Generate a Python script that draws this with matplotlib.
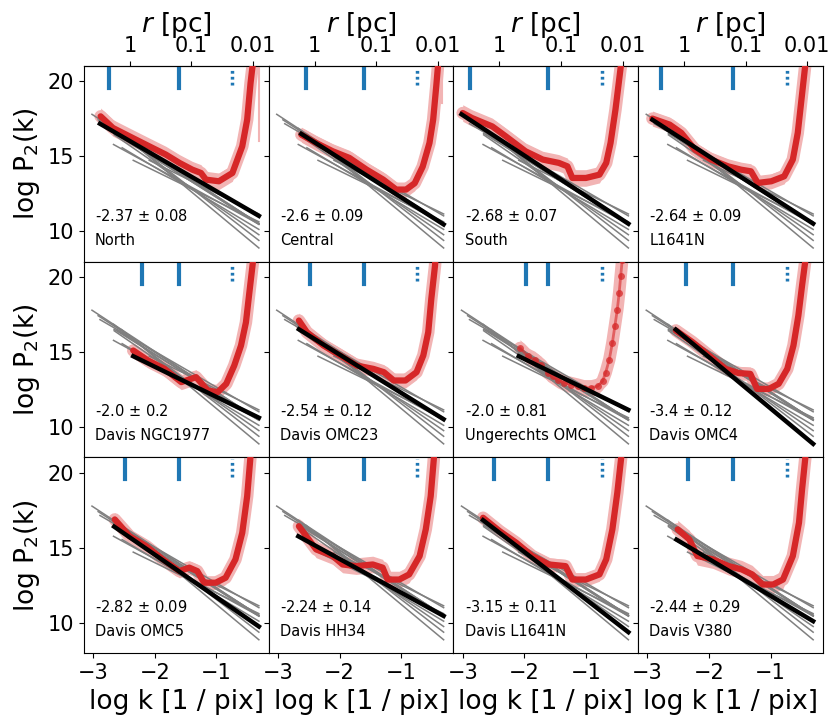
import numpy as np
import matplotlib.pyplot as plt

# one panel per region, fits drawn as log P2 = slope * log k + intercept
names = ["North", "Central", "South", "L1641N",
         "Davis NGC1977", "Davis OMC23", "Ungerechts OMC1", "Davis OMC4",
         "Davis OMC5", "Davis HH34", "Davis L1641N", "Davis V380"]
slopes = [-2.37, -2.6, -2.68, -2.64, -2.0, -2.54, -2.0, -3.4, -2.82, -2.24, -3.15, -2.44]
slope_err = ["0.08", "0.09", "0.07", "0.09", "0.2", "0.12", "0.81", "0.12", "0.09", "0.14", "0.11", "0.29"]
intercepts = [10.30, 9.66, 9.68, 9.70, 10.02, 9.75, 10.54, 7.85, 8.91, 9.79, 8.43, 9.38]
fit_start = [-2.89, -2.62, -3.02, -2.92, -2.35, -2.66, -2.09, -2.54, -2.66, -2.67, -2.67, -2.53]
fit_end = -0.31

# blue markers at the top of each panel
k_first = [-2.75, -2.54, -2.88, -2.78, -2.21, -2.48, -1.97, -2.38, -2.48, -2.50, -2.50, -2.35]
k_mid = -1.61
k_beam = -0.74

# measured spectra (log k, log P2)
spec_x = [
    [-2.88, -2.68, -2.41, -2.09, -1.82, -1.60, -1.39, -1.25, -1.17, -0.96, -0.74, -0.58, -0.50, -0.445, -0.41, -0.39],
    [-2.62, -2.38, -2.11, -1.84, -1.56, -1.29, -1.08, -0.92, -0.78, -0.65, -0.54, -0.48, -0.43, -0.40, -0.38],
    [-3.00, -2.85, -2.52, -2.30, -1.98, -1.70, -1.44, -1.30, -1.22, -1.00, -0.78, -0.67, -0.60, -0.52, -0.46, -0.43, -0.41],
    [-2.92, -2.64, -2.45, -2.23, -1.97, -1.69, -1.48, -1.32, -1.21, -0.99, -0.78, -0.64, -0.56, -0.50, -0.44, -0.42],
    [-2.35, -2.11, -1.84, -1.57, -1.33, -1.14, -0.98, -0.84, -0.71, -0.60, -0.52, -0.47, -0.41, -0.39],
    [-2.66, -2.53, -2.26, -1.99, -1.72, -1.45, -1.28, -1.12, -0.93, -0.75, -0.64, -0.56, -0.51, -0.45, -0.43],
    [-2.07, -1.94, -1.83, -1.73, -1.62, -1.54, -1.46, -1.35, -1.24, -1.13, -1.03, -0.92, -0.81, -0.73,
     -0.68, -0.62, -0.57, -0.53, -0.49, -0.46, -0.435, -0.41],
    [-2.54, -2.27, -2.00, -1.73, -1.52, -1.33, -1.22, -1.03, -0.87, -0.73, -0.63, -0.55, -0.49, -0.44, -0.42],
    [-2.65, -2.41, -2.14, -1.87, -1.60, -1.44, -1.31, -1.20, -1.01, -0.85, -0.69, -0.58, -0.50, -0.45, -0.43],
    [-2.66, -2.38, -2.11, -1.95, -1.73, -1.46, -1.30, -1.22, -1.03, -0.87, -0.70, -0.60, -0.52, -0.47, -0.45],
    [-2.67, -2.40, -2.13, -1.87, -1.60, -1.33, -1.22, -1.00, -0.78, -0.67, -0.57, -0.49, -0.43, -0.41],
    [-2.51, -2.32, -2.19, -1.94, -1.68, -1.47, -1.30, -1.13, -0.96, -0.80, -0.64, -0.54, -0.49, -0.44, -0.42],
]
spec_y = [
    [17.64, 16.87, 16.31, 15.65, 15.10, 14.55, 14.10, 13.88, 13.44, 13.33, 13.88, 15.65, 17.42, 19.85, 21.07, 22.0],
    [16.42, 15.87, 15.32, 14.88, 14.10, 13.44, 12.78, 12.78, 13.20, 14.30, 15.87, 17.42, 19.63, 21.07, 22.0],
    [17.86, 17.53, 16.97, 16.31, 15.32, 14.77, 14.55, 14.32, 13.55, 13.55, 13.77, 14.55, 15.87, 18.08, 20.07, 21.07, 22.0],
    [17.49, 17.09, 16.54, 15.43, 14.77, 14.32, 14.10, 13.99, 13.22, 13.33, 13.66, 14.77, 16.54, 18.75, 20.96, 22.0],
    [15.10, 14.44, 13.88, 13.00, 13.33, 12.45, 12.33, 12.89, 14.10, 15.43, 16.97, 18.75, 20.85, 22.0],
    [17.09, 16.31, 15.43, 14.77, 14.10, 13.88, 13.66, 13.11, 13.11, 13.66, 14.77, 16.31, 18.53, 20.73, 22.0],
    [15.27, 14.72, 14.50, 14.17, 13.61, 13.39, 13.17, 12.96, 12.84, 12.73, 12.62, 12.62, 12.73, 13.06,
     13.62, 14.50, 15.61, 16.71, 17.82, 18.92, 20.03, 21.13],
    [16.43, 15.66, 14.77, 13.88, 13.60, 13.55, 12.55, 12.55, 12.89, 13.88, 15.43, 17.42, 19.41, 20.96, 22.0],
    [16.89, 15.78, 15.12, 14.24, 13.46, 13.69, 13.46, 12.69, 12.69, 13.02, 14.24, 16.00, 18.43, 20.87, 22.0],
    [16.44, 14.90, 14.46, 13.90, 13.79, 13.90, 13.69, 12.90, 12.90, 13.24, 14.46, 16.23, 18.43, 20.87, 22.0],
    [17.00, 16.11, 15.34, 14.46, 13.90, 13.79, 12.90, 12.90, 13.24, 14.24, 16.23, 18.66, 20.87, 22.0],
    [16.23, 15.56, 14.46, 14.24, 13.79, 13.57, 13.24, 12.57, 12.57, 12.90, 14.46, 16.67, 18.88, 20.87, 22.0],
]
spec_err = [0.55, 0.5, 0.55, 0.5, 0.5, 0.5, 0.55, 0.45, 0.45, 0.55, 0.45, 0.6]

# error bars of points above the plot
tail_k = [-0.31, -0.33]
tail_lo = [16.0, 18.5]

red = "#d62728"
pink = "#f2b4b4"
blue = "#1f77b4"

fig, axes = plt.subplots(3, 4, figsize=(8.33, 7.18), dpi=100, sharex=True, sharey=True)
fig.subplots_adjust(left=0.1008, right=0.988, bottom=0.09, top=0.9085, wspace=0, hspace=0)

for i, ax in enumerate(axes.flat):
    x = np.array(spec_x[i])
    y = np.array(spec_y[i])
    # error band
    ax.fill_between(x, y - spec_err[i], y + spec_err[i], color=pink, lw=0, zorder=1)
    ax.plot(x, y, color=pink, lw=9, zorder=1, solid_capstyle="round", solid_joinstyle="round")
    if i < len(tail_k):
        ax.plot([tail_k[i], tail_k[i]], [tail_lo[i], 22], color=pink, lw=1.5, zorder=1)

    for j in range(12):
        if j == i:
            continue
        xx = np.array([fit_start[j], fit_end])
        ax.plot(xx, slopes[j] * xx + intercepts[j], color="gray", lw=1.1, zorder=2)

    if names[i] == "Ungerechts OMC1":
        ax.plot(x, y, color=red, lw=2, alpha=0.6, zorder=3)
        ax.plot(x, y, "o", color=red, ms=5, alpha=0.75, mew=0, zorder=3)
    else:
        ax.plot(x, y, color=red, lw=4.5, zorder=3, solid_capstyle="round", solid_joinstyle="round")

    xx = np.array([fit_start[i], fit_end])
    ax.plot(xx, slopes[i] * xx + intercepts[i], color="black", lw=3.2, zorder=4)

    ax.axvline(k_first[i], ymin=0.888, ymax=1, color=blue, lw=3)
    ax.axvline(k_mid, ymin=0.888, ymax=1, color=blue, lw=3)
    ax.axvline(k_beam, ymin=0.9, ymax=0.99, color=blue, lw=2.5, ls=(0, (0.8, 0.9)))

    ax.text(0.06, 0.235, "%s $\\pm$ %s" % (slopes[i], slope_err[i]), transform=ax.transAxes,
            fontsize=10.5, va="center")
    ax.text(0.06, 0.11, names[i], transform=ax.transAxes, fontsize=10.5, va="center")

    ax.set_xlim(-3.15, -0.15)
    ax.set_ylim(8, 21)
    ax.set_xticks([-3, -2, -1])
    ax.set_yticks([10, 15, 20])
    ax.tick_params(labelsize=15)

    row, col = divmod(i, 4)
    if col == 0:
        ax.set_ylabel("log P$_2$(k)", fontsize=19)
    if row == 2:
        ax.set_xlabel("log k [1 / pix]", fontsize=19)
    if row == 0:
        sec = ax.secondary_xaxis("top", functions=(lambda v: 10 ** (-v - 2.405),
                                                   lambda r: -np.log10(r) - 2.405))
        sec.set_xticks([1, 0.1, 0.01], labels=["1", "0.1", "0.01"])
        sec.tick_params(labelsize=15)
        sec.minorticks_off()
        sec.set_xlabel("$r$ [pc]", fontsize=19, labelpad=3)

fig.savefig("out.png", dpi=100)
